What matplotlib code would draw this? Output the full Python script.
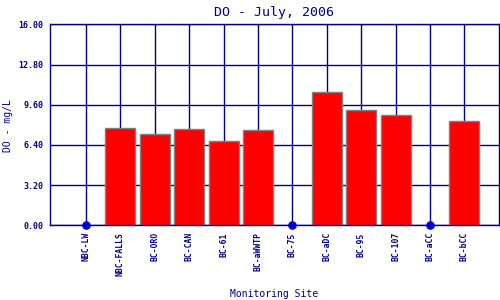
import matplotlib
matplotlib.use("Agg")
import matplotlib.pyplot as plt
import numpy as np

sites = ["NBC-LW", "NBC-FALLS", "BC-ORO", "BC-CAN", "BC-61", "BC-aWWTP",
         "BC-75", "BC-aDC", "BC-95", "BC-107", "BC-aCC", "BC-bCC"]
do_vals = [0.0, 7.72, 7.24, 7.64, 6.74, 7.56, 0.0, 10.59, 9.15, 8.76, 0.0, 8.28]
yticks = [0.0, 3.2, 6.4, 9.6, 12.8, 16.0]

navy = "#000080"
mono = "DejaVu Sans Mono"

fig = plt.figure(figsize=(5, 3), dpi=100)
ax = fig.add_axes([0.1, 0.249, 0.898, 0.67])

x = np.arange(len(sites))
vals = np.array(do_vals)
has = vals > 0

# grid at category centres and y ticks
for xi in x:
    ax.axvline(xi, color=navy, lw=1.0, zorder=1)
for yv in yticks:
    ax.axhline(yv, color=navy, lw=1.0, zorder=1)

ax.bar(x[has], vals[has], width=0.87, color="#ff0000",
       edgecolor="#808080", linewidth=1.0, zorder=2)
ax.plot(x[~has], vals[~has], "o", color="#0000cc", ms=5.2, zorder=4,
        clip_on=False)

ax.set_xlim(-1.047, 12.006)
ax.set_ylim(0, 16)
ax.set_yticks(yticks)
ax.set_yticklabels(["%.2f" % v for v in yticks], fontfamily=mono,
                   fontsize=6, fontweight="bold", color=navy)
ax.set_xticks(x)
ax.set_xticklabels(sites, rotation=90, fontfamily=mono, fontsize=5.8,
                   fontweight="bold", color=navy)
ax.tick_params(axis="both", length=0, pad=5)

for s in ax.spines.values():
    s.set_color(navy)
    s.set_linewidth(1.0)

ax.set_title("DO - July, 2006", fontfamily=mono, fontsize=9.5,
             color=navy, pad=6)
fig.text(0.016, 0.583, "DO - mg/L", fontfamily=mono, fontsize=7, color=navy,
         rotation=90, ha="center", va="center")
fig.text(0.548, 0.02, "Monitoring Site", fontfamily=mono, fontsize=7,
         color=navy, ha="center", va="center")

fig.savefig("out.png", dpi=100)
